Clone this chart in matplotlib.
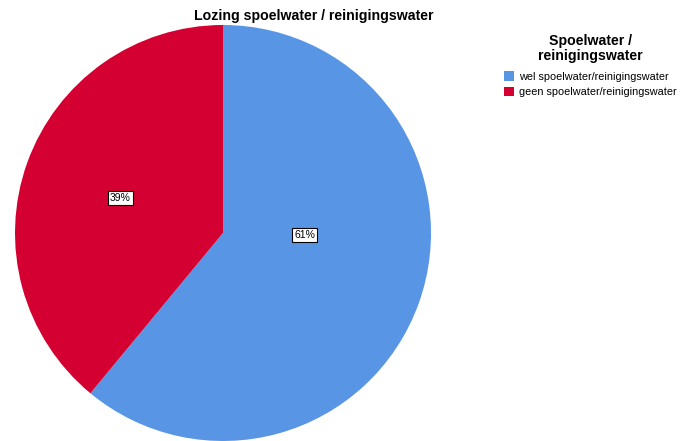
import matplotlib
matplotlib.use("Agg")
import matplotlib.pyplot as plt
from matplotlib.patches import Patch

plt.rcParams['font.family'] = ['Liberation Sans', 'DejaVu Sans']

categories = ["wel spoelwater/reinigingswater", "geen spoelwater/reinigingswater"]
values = [61, 39]
colors = ["#5896E5", "#D40031"]
title = "Lozing spoelwater / reinigingswater"
legend_title = "Spoelwater /\nreinigingswater"

fig = plt.figure(figsize=(6.93, 4.41), dpi=100)
W, H = 693, 441
cx, cy, r = 223, 233, 208
ax = fig.add_axes([(cx - r) / W, (H - cy - r) / H, 2 * r / W, 2 * r / H])
wedges, texts, autotexts = ax.pie(values, colors=colors, startangle=90, counterclock=False,
                                  autopct=lambda p: f"{p:.0f}%", radius=1,
                                  wedgeprops=dict(linewidth=0))
label_pos = [(0.394, -0.01), (-0.495, 0.168)]
for t, pos in zip(autotexts, label_pos):
    t.set_position(pos)
    t.set_fontsize(7.5)
    t.set_bbox(dict(facecolor='white', edgecolor='black', linewidth=0.8, pad=1.5))
ax.set_xlim(-1, 1)
ax.set_ylim(-1, 1)
ax.set_aspect('auto')
ax.axis('off')

fig.text(314 / W, 1 - 16 / H, title, ha='center', va='center', fontsize=10.2, fontweight='bold')

handles = [Patch(facecolor=c, edgecolor='none') for c in colors]
leg = fig.legend(handles, categories, loc='upper left', bbox_to_anchor=(504 / W, 1 - 34 / H),
                 frameon=False, fontsize=7.85, title=legend_title,
                 title_fontproperties={'weight': 'bold', 'size': 10.2},
                 handlelength=0.95, handleheight=0.95, handletextpad=0.4, labelspacing=0.45,
                 borderaxespad=0, borderpad=0)
leg._legend_box.align = "center"
leg.get_title().set_multialignment('center')
leg.get_title().set_linespacing(1.1)
leg._legend_box.sep = 6
fig.savefig("out.png", dpi=100)
